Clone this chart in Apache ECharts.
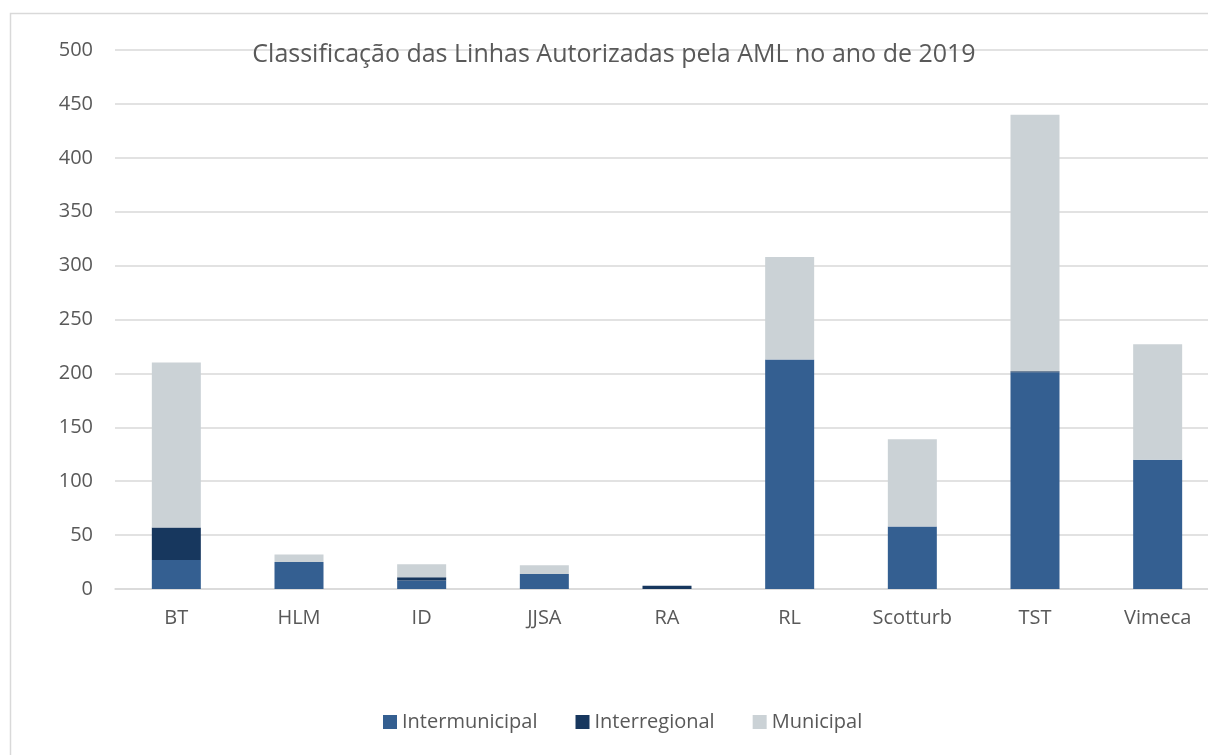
<!DOCTYPE html>
<html>
<head>
<meta charset="utf-8">
<script src="https://cdn.jsdelivr.net/npm/echarts@6/dist/echarts.min.js"></script>
<style>
html, body { margin: 0; padding: 0; background: #fff; overflow: hidden; }
#chart { width: 1208px; height: 755px; }
</style>
</head>
<body>
<div id="chart"></div>
<script>
// dados
var categorias = ['BT', 'HLM', 'ID', 'JJSA', 'RA', 'RL', 'Scotturb', 'TST', 'Vimeca'];
var intermunicipal = [27, 25, 8, 14, 0, 213, 58, 201, 120];
var interregional = [30, 0, 3, 0, 3, 0, 0, 1, 0];
var municipal = [153, 7, 12, 8, 0, 95, 81, 238, 107];
var yTicks = { min: 0, max: 500, interval: 50 };

var myChart = echarts.init(document.getElementById('chart'));

var fonte = '"Open Sans", "Noto Sans", sans-serif';

function serie(nome, dados, cor) {
    return {
        name: nome,
        type: 'bar',
        stack: 'total',
        barWidth: 49,
        data: dados,
        itemStyle: { color: cor },
        emphasis: { disabled: true }
    };
}

var option = {
    animation: false,
    textStyle: { fontFamily: fonte },
    title: {
        text: 'Classificação das Linhas Autorizadas pela AML no ano de 2019',
        left: 609,
        textAlign: 'center',
        top: 37,
        textStyle: { fontFamily: fonte, fontSize: 25, fontWeight: 'normal', color: '#595959' }
    },
    graphic: [{
        type: 'rect',
        shape: { x: 10.5, y: 13.5, width: 1300, height: 800 },
        style: { fill: 'none', stroke: '#d9d9d9', lineWidth: 1.5 },
        z: -1
    }],
    legend: {
        bottom: 18,
        left: 378,
        itemWidth: 14,
        itemHeight: 14,
        itemGap: 38,
        icon: 'rect',
        textStyle: { fontFamily: fonte, fontSize: 20, color: '#595959' },
        data: ['Intermunicipal', 'Interregional', 'Municipal']
    },
    // o gráfico original está cortado à direita
    grid: { left: 115, top: 50, width: 1104, height: 539, outerBoundsMode: 'none' },
    xAxis: {
        type: 'category',
        data: categorias,
        axisLine: { lineStyle: { color: '#d9d9d9', width: 1.5 } },
        axisTick: { show: false },
        axisLabel: { fontFamily: fonte, fontSize: 20, color: '#595959', margin: 19 }
    },
    yAxis: {
        type: 'value',
        min: yTicks.min,
        max: yTicks.max,
        interval: yTicks.interval,
        axisLine: { show: false },
        axisTick: { show: false },
        axisLabel: { fontFamily: fonte, fontSize: 20, color: '#595959', margin: 22 },
        splitLine: { lineStyle: { color: '#d9d9d9', width: 1.5 } }
    },
    series: [
        serie('Intermunicipal', intermunicipal, '#345f91'),
        serie('Interregional', interregional, '#17375e'),
        serie('Municipal', municipal, '#cbd2d6')
    ]
};

myChart.setOption(option);
</script>
</body>
</html>
